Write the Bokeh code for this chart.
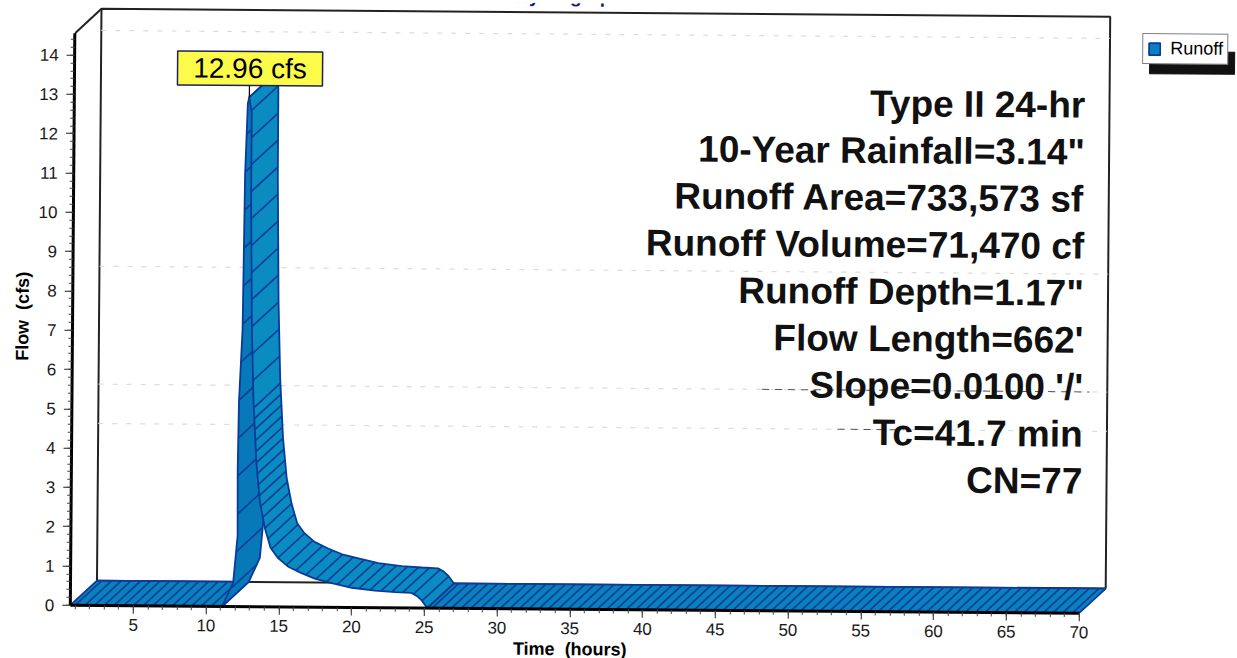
from bokeh.plotting import figure
from bokeh.embed import file_html
from bokeh.resources import INLINE
from bokeh.models import Legend, LegendItem, FixedTicker, Range1d, Title
from bokeh.core.properties import value
import numpy as np

# ---- data ----
rising_t = [11.1, 11.85, 12.13, 12.1, 12.15, 12.36, 12.45, 12.6, 12.7]
rising_q = [0.0, 0.61, 1.8, 3.48, 5.2, 7.05, 11.0, 12.8, 12.96]
falling_t = [12.7, 12.87, 12.88, 13.0, 13.15, 13.38, 13.65, 14.0, 14.4, 14.9, 15.6, 16.5, 17.5, 18.7, 20.0, 21.6, 23.0, 24.1, 24.5, 24.8, 25.2]
falling_q = [12.96, 12.57, 10.3, 7.1, 5.2, 3.66, 2.65, 2.0, 1.5, 1.25, 1.03, 0.87, 0.72, 0.61, 0.5, 0.43, 0.4, 0.38, 0.3, 0.2, 0.0]
start_t, end_t = 0.67, 70.0
peak_label = "12.96 cfs"
title_text = "Hydrograph"
x_title = "Time\u00a0\u00a0(hours)"
y_title = "Flow\u00a0\u00a0(cfs)"
x_ticks = [5, 10, 15, 20, 25, 30, 35, 40, 45, 50, 55, 60, 65, 70]
y_ticks = list(range(0, 15))
grid_flows = [14, 8, 5, 4]
notes = ["Type II 24-hr", "10-Year Rainfall=3.14\"", "Runoff Area=733,573 sf",
         "Runoff Volume=71,470 cf", "Runoff Depth=1.17\"", "Flow Length=662'",
         "Slope=0.0100 '/'", "Tc=41.7 min", "CN=77"]

# ---- layout ----
FONT = "Liberation Sans"
LEFT = 72
FW, FH = 1236 - LEFT, 606
PX_T, PX_Q = 14.55, 39.3             # pixels per hour, per cfs
DT, DQ = 1.82, 0.63                  # depth of the 3-D box
FILL, EDGE, HATCH = "#0a8cc0", "#0a3a9a", "#0a3f9c"
Y0 = FH


def tx(px):
    return (px - LEFT) / PX_T + start_t


def qy(px):
    return (Y0 - px) / PX_Q


p = figure(frame_width=FW, frame_height=FH, output_backend="svg", toolbar_location=None,
           x_range=Range1d(start_t, tx(LEFT + FW)), y_range=Range1d(0, qy(0)),
           min_border_left=LEFT, min_border_bottom=44, min_border_top=3, min_border_right=0,
           background_fill_color="white", border_fill_color="white", outline_line_color=None,
           styles={"transform": "rotate(0.45deg)", "transform-origin": "50% 50%"})
p.grid.visible = False

for ax, ticks, minor, bound in ((p.xaxis[0], x_ticks, [i for i in range(1, 71)], (start_t, end_t)),
                                (p.yaxis[0], y_ticks, [i * 0.2 for i in range(0, 73)], (0, 14.55))):
    ax.ticker = FixedTicker(ticks=ticks, minor_ticks=minor)
    ax.bounds = bound
    ax.axis_line_color = "black"
    ax.axis_line_width = 3
    ax.major_tick_line_color = "#222222"
    ax.minor_tick_line_color = "#444444"
    ax.major_tick_out, ax.major_tick_in = 8, 0
    ax.minor_tick_out, ax.minor_tick_in = 4, 0
    ax.major_label_text_font = FONT
    ax.major_label_text_font_size = "17px"
    ax.major_label_text_color = "#1a1a1a"
p.xaxis.major_label_standoff = 5
p.yaxis.major_label_standoff = 8
p.yaxis.major_label_orientation = "horizontal"

# axis titles, placed off-centre as in the reference
p.add_layout(Title(text=x_title, align="left", offset=515 - LEFT, standoff=0, text_font=FONT, text_font_style="bold",
                   text_font_size="18px", text_color="black"), "below")
p.add_layout(Title(text=y_title, align="left", offset=244, standoff=4, text_font=FONT, text_font_style="bold",
                   text_font_size="18px", text_color="black"), "left")

# cut-off title at the very top of the scan
p.text(x=[tx(566)], y=[qy(-7)], text=[title_text], text_font=value(FONT),
       text_font_style="bold", text_font_size="19px", text_color="#101a80",
       text_align="center", text_baseline="alphabetic")

# back wall of the box and its faint grid
bx = [start_t + DT, end_t + DT]
top = 14.55 + DQ
p.line([bx[0], bx[0], bx[1], bx[1]], [DQ, top, top, DQ], line_color="#222222", line_width=2)
p.line([start_t, bx[0]], [14.55, top], line_color="#222222", line_width=2)
p.line(bx, [DQ, DQ], line_color="#222222", line_width=2)
p.multi_line([bx for _ in grid_flows], [[f + DQ, f + DQ] for f in grid_flows],
             line_color="#dcdcdc", line_width=1.2, line_dash="5 9")
p.multi_line([[48.1, 70.6], [53.3, 57.9]], [[5 + DQ, 5 + DQ], [4 + DQ, 4 + DQ]],
             line_color="#555555", line_width=1, line_dash="7 6")


def ribbon(ts, qs):
    ts, qs = np.asarray(ts, float), np.asarray(qs, float)
    return (list(ts) + list(ts[::-1] + DT), list(qs) + list(qs[::-1] + DQ))


def depth_lines(ts, qs, step_px):
    """cross strokes along the depth of the ribbon, every step_px along its edge"""
    ts, qs = np.asarray(ts, float), np.asarray(qs, float)
    d = np.hypot(np.diff(ts) * PX_T, np.diff(qs) * PX_Q)
    s = np.concatenate([[0], np.cumsum(d)])
    at = np.arange(step_px / 2, s[-1], step_px)
    tt, qq = np.interp(at, s, ts), np.interp(at, s, qs)
    return ([[a, a + DT] for a in tt], [[b, b + DQ] for b in qq])


def draw(ts, qs, color=FILL):
    xs, ys = ribbon(ts, qs)
    return p.patch(xs, ys, fill_color=color, line_color=EDGE, line_width=1.8)


def strokes(ts, qs, step):
    xs, ys = depth_lines(ts, qs, step)
    p.multi_line(xs, ys, line_color=HATCH, line_width=1.7)


base_l = draw([start_t, rising_t[0]], [0, 0], "#0a80bc")
strokes([start_t, rising_t[0]], [0, 0], 9.7)
draw([falling_t[-1], end_t], [0, 0], "#0a80bc")
strokes([falling_t[-1], end_t], [0, 0], 9.7)
draw(rising_t, rising_q, "#0879b8")
strokes(rising_t, rising_q, 38)
draw(falling_t, falling_q)
split = 5
strokes(falling_t[:split], falling_q[:split], 27)
strokes(falling_t[split - 1:], falling_q[split - 1:], 11)

# peak call-out
peak = max(rising_q)
pt = rising_t[rising_q.index(peak)]
p.line([pt, pt], [peak, peak + 0.3], line_color="black", line_width=1.2)
lx0, lx1 = pt - 72 / PX_T, pt + 73 / PX_T
ly0, ly1 = peak + 0.3, peak + 0.3 + 34 / PX_Q
p.quad(left=[lx0], right=[lx1], bottom=[ly0], top=[ly1], fill_color="#fdfb4a", line_color="#20205a", line_width=1.5)
p.text(x=[(lx0 + lx1) / 2], y=[(ly0 + ly1) / 2], text=[peak_label], text_font=value(FONT),
       text_font_size="28px", text_color="black", text_align="center", text_baseline="middle")

# notes inside the plot
nq = [qy(98 + 47 * i) for i in range(len(notes))]
p.text(x=[tx(1083)] * len(notes), y=nq, text=notes, text_font=value(FONT), text_font_style="bold",
       text_font_size="37px", text_color="#111111", text_align="right", text_baseline="middle")

# legend with its drop shadow
p.quad(left=[tx(1147)], right=[tx(1232)], bottom=[qy(66)], top=[qy(44)], fill_color="#111111", line_color="#111111")
lg = Legend(items=[LegendItem(label="Runoff", renderers=[base_l])], location=(1068, 549),
            border_line_color="black", border_line_width=1.5, background_fill_color="white", background_fill_alpha=1,
            label_text_font=FONT, label_text_font_size="18px", label_text_color="black",
            glyph_width=14, glyph_height=15, padding=4, margin=0, spacing=0, label_standoff=9)
p.add_layout(lg, "center")

open("out.html", "w").write(file_html(p, INLINE))
